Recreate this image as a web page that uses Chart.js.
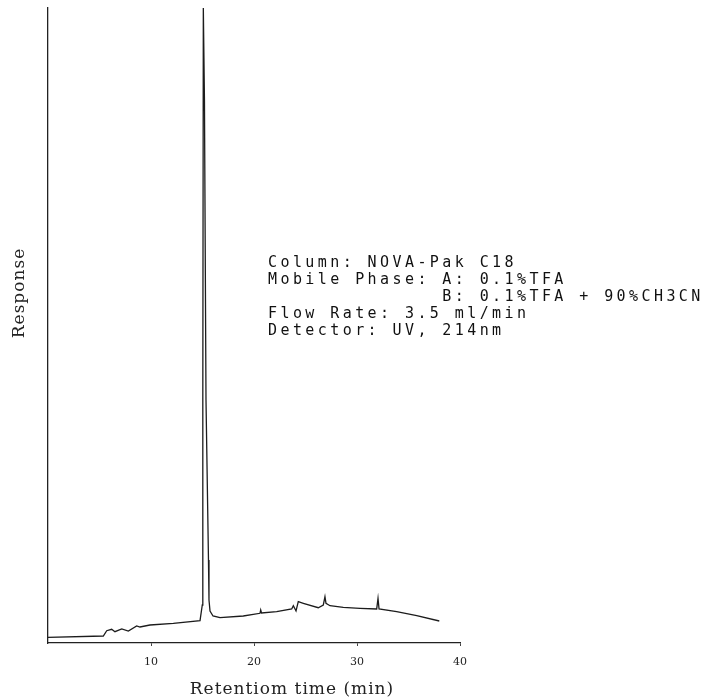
<!DOCTYPE html>
<html lang="en">
<head>
    <meta charset="UTF-8">
    <title>Chromatogram</title>
    <script src="https://cdn.jsdelivr.net/npm/chart.js"></script>
    <style>
        html, body {
            margin: 0;
            padding: 0;
            background: #fff;
        }
        .chart-box {
            position: relative;
            width: 714px;
            height: 699px;
        }
    </style>
</head>
<body>
    <div class="chart-box">
        <canvas id="hplcChart"></canvas>
    </div>

    <script>
        // Retention time (min) and detector response (arbitrary units)
        const retentionTime = [
            0, 5.37, 5.70, 6.18, 6.50, 7.16, 7.80, 8.61, 8.93, 9.90, 12.17, 14.76,
            14.98, 15.03, 15.08, 15.19, 15.34, 15.58, 15.63, 15.73, 16.02, 16.70,
            18.96, 20.58, 20.65, 20.73, 22.20, 23.66, 23.82, 24.08, 24.30, 24.79,
            26.24, 26.73, 26.89, 26.99, 27.38, 28.67, 30.29, 31.91, 32.04, 32.14,
            33.85, 35.80, 37.99
        ];
        const response = [
            5.7, 7, 12.3, 13.7, 11.3, 14, 12, 17, 16, 18, 19.7, 22.3,
            38, 243, 635, 543, 243, 83, 43, 32, 27, 25.3,
            27, 29.7, 33, 30, 31.3, 34, 37.3, 32, 41.3, 39.7,
            35.3, 38, 46.3, 39.7, 37.3, 35.7, 34.7, 34, 44.7, 34,
            31.3, 27.3, 22
        ];
        const timeTicks = [10, 20, 30, 40];

        const conditionLines = [
            'Column: NOVA-Pak C18',
            'Mobile Phase: A: 0.1%TFA',
            '              B: 0.1%TFA + 90%CH3CN',
            'Flow Rate: 3.5 ml/min',
            'Detector: UV, 214nm'
        ];
        const xTitle = 'Retentiom time (min)';
        const yTitle = 'Response';

        // draws the axis titles and the run conditions block
        const textPlugin = {
            id: 'textPlugin',
            afterDraw(chart) {
                const ctx = chart.ctx;
                ctx.save();
                ctx.fillStyle = '#222';

                ctx.font = '17px "DejaVu Serif"';
                ctx.letterSpacing = '1px';
                ctx.textAlign = 'center';
                ctx.textBaseline = 'alphabetic';
                ctx.fillText(xTitle, 292, 694);

                ctx.save();
                ctx.translate(24, 293);
                ctx.rotate(-Math.PI / 2);
                ctx.fillText(yTitle, 0, 0);
                ctx.restore();
                ctx.letterSpacing = '0px';

                // spaced out printer-like text, one char at a time
                ctx.font = '15px "DejaVu Sans Mono"';
                ctx.textAlign = 'left';
                ctx.fillStyle = '#111';
                const pitch = 12.45;
                conditionLines.forEach((line, i) => {
                    const y = 266.5 + i * 17.1;
                    for (let c = 0; c < line.length; c++) {
                        ctx.fillText(line[c], 268 + c * pitch, y);
                    }
                });
                ctx.restore();
            }
        };

        const ctx = document.getElementById('hplcChart').getContext('2d');
        const hplcChart = new Chart(ctx, {
            type: 'line',
            data: {
                datasets: [{
                    data: retentionTime.map((t, i) => ({ x: t, y: response[i] })),
                    borderColor: '#1c1c1c',
                    borderWidth: 1.3,
                    pointRadius: 0,
                    tension: 0,
                    fill: false,
                    clip: false
                }]
            },
            options: {
                responsive: true,
                maintainAspectRatio: false,
                animation: false,
                layout: {
                    padding: { left: 0, top: 8, right: 254, bottom: 0 }
                },
                plugins: {
                    legend: { display: false },
                    tooltip: { enabled: false }
                },
                scales: {
                    x: {
                        type: 'linear',
                        min: 0,
                        max: 40,
                        afterBuildTicks: scale => {
                            scale.ticks = timeTicks.map(v => ({ value: v }));
                        },
                        afterFit: scale => { scale.height = 56; },
                        ticks: {
                            color: '#222',
                            padding: 10,
                            maxRotation: 0,
                            font: { family: 'DejaVu Serif', size: 11 }
                        },
                        grid: {
                            drawOnChartArea: false,
                            drawTicks: true,
                            tickLength: 3,
                            color: '#444'
                        },
                        border: { display: true, color: '#222', width: 1.3 }
                    },
                    y: {
                        min: 0,
                        max: 635,
                        afterFit: scale => { scale.width = 48; },
                        ticks: { display: false },
                        grid: { display: false },
                        border: { display: true, color: '#222', width: 1.3 }
                    }
                }
            },
            plugins: [textPlugin]
        });
    </script>
</body>
</html>
